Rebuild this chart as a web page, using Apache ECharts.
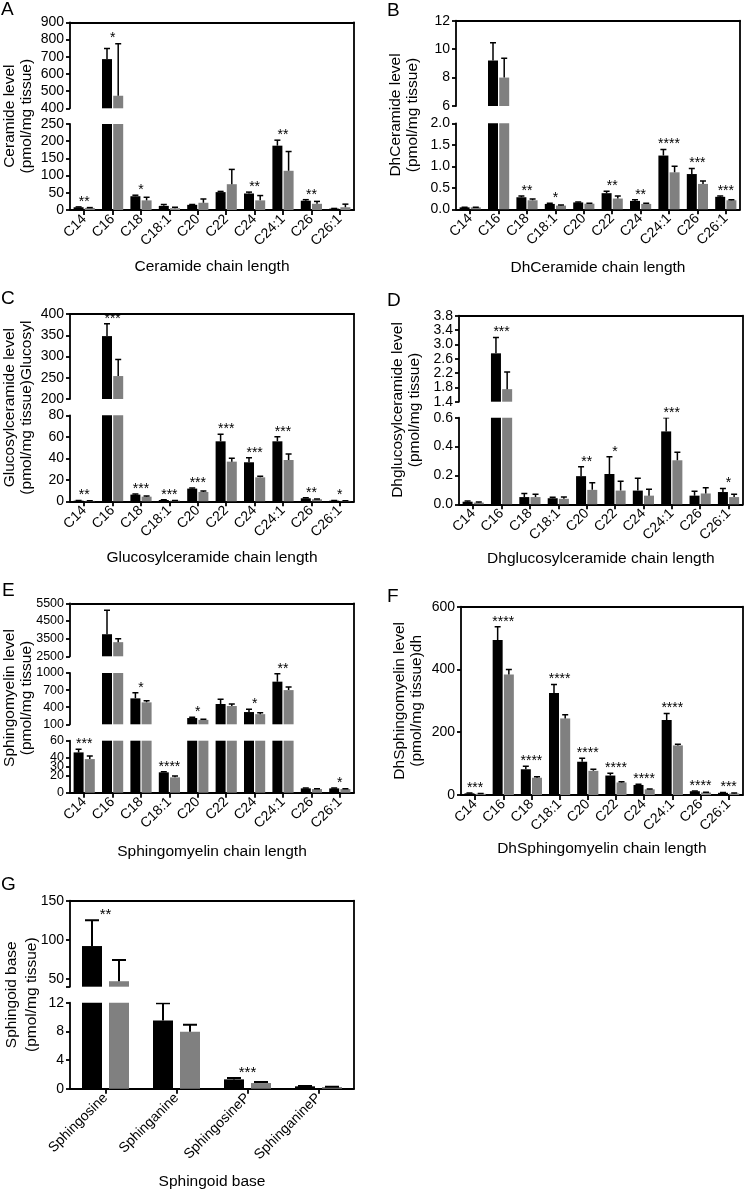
<!DOCTYPE html>
<html><head><meta charset="utf-8">
<script src="https://cdn.jsdelivr.net/npm/echarts@6.0.0/dist/echarts.min.js"></script>
<style>html,body{margin:0;padding:0;background:#fff;}#c{width:745px;height:1193px;}</style>
</head><body><div id="c"></div>
<script>
// ---------- categories ----------
const chainCats = ['C14','C16','C18','C18:1','C20','C22','C24','C24:1','C26','C26:1'];
const baseCats = ['Sphingosine','Sphinganine','SphingosineP','SphinganineP'];

// ---------- A: Ceramide ----------
const aBlack    = [8, 686, 40, 12, 15, 52, 48, 187, 27, 4];
const aBlackErr = [1, 62, 3, 4, 1, 2, 4, 16, 3, 0.5];
const aGrey     = [6, 473, 28, 5, 21, 75, 28, 114, 18, 8];
const aGreyErr  = [1, 303, 9, 3, 11, 43, 14, 56, 7, 9];
const aStars    = ['**','*','*','','','','**','**','**',''];

// ---------- B: DhCeramide ----------
const bBlack    = [0.045, 9.2, 0.28, 0.125, 0.16, 0.375, 0.195, 1.25, 0.82, 0.29];
const bBlackErr = [0.005, 1.25, 0.03, 0.015, 0.01, 0.045, 0.025, 0.14, 0.13, 0.02];
const bGrey     = [0.045, 8.0, 0.21, 0.086, 0.13, 0.25, 0.125, 0.86, 0.59, 0.21];
const bGreyErr  = [0.005, 1.35, 0.03, 0.014, 0.01, 0.06, 0.015, 0.14, 0.07, 0.01];
const bStars    = ['','','**','*','','**','**','****','***','***'];

// ---------- C: Glucosylceramide ----------
const cBlack    = [0.6, 348, 6.2, 1.2, 11.8, 55.8, 36.3, 55.8, 2.8, 0.6];
const cBlackErr = [0.2, 29, 0.6, 0.2, 0.6, 6.5, 4.3, 4.2, 0.4, 0.2];
const cGrey     = [0.4, 254, 4.3, 0.6, 8.7, 36.9, 22.3, 38.4, 1.9, 0.4];
const cGreyErr  = [0.2, 39, 0.7, 0.2, 0.9, 3.1, 1.0, 5.6, 0.3, 0.2];
const cStars    = ['**','***','***','***','***','***','***','***','**','*'];

// ---------- D: Dhglucosylceramide ----------
const dBlack    = [0.018, 2.75, 0.05, 0.042, 0.195, 0.21, 0.095, 0.505, 0.06, 0.085];
const dBlackErr = [0.004, 0.44, 0.025, 0.006, 0.065, 0.12, 0.085, 0.095, 0.03, 0.025];
const dGrey     = [0.012, 1.75, 0.05, 0.038, 0.10, 0.095, 0.06, 0.305, 0.075, 0.05];
const dGreyErr  = [0.004, 0.48, 0.02, 0.012, 0.05, 0.065, 0.045, 0.055, 0.04, 0.02];
const dStars    = ['','***','','','**','*','','***','','*'];

// ---------- E: Sphingomyelin ----------
const eBlack    = [46.5, 3750, 555, 23.5, 210, 456, 315, 848, 5, 5];
const eBlackErr = [3.5, 1350, 100, 0.7, 12, 85, 50, 140, 0.3, 0.3];
const eGrey     = [38.8, 3300, 485, 17.7, 178, 421, 278, 700, 4.2, 4.2];
const eGreyErr  = [3.5, 200, 30, 1.5, 10, 35, 25, 55, 0.3, 0.3];
const eStars    = ['***','','*','****','*','','*','**','','*'];

// ---------- F: DhSphingomyelin ----------
const fBlack    = [5.3, 494, 82, 325, 106, 62, 32, 239, 12, 7];
const fBlackErr = [1, 42, 10, 27, 11, 7, 2, 21, 1, 1];
const fGrey     = [4, 384, 55, 244, 77, 40, 18, 158, 8, 5];
const fGreyErr  = [1, 16, 3, 12, 5, 2, 1, 4, 1, 1];
const fStars    = ['***','****','****','****','****','****','****','****','****','***'];

// ---------- G: Sphingoid base ----------
const gBlack    = [92, 9.53, 1.3, 0.33];
const gBlackErr = [33, 2.4, 0.2, 0.03];
const gGrey     = [47, 7.95, 0.79, 0.23];
const gGreyErr  = [27, 0.98, 0.15, 0.03];
const gStars    = ['**','','***',''];
const gUpperTickValues  = [40, 50, 100, 150];
const gUpperLabelValues = [50, 100, 150];

// ---------- build ----------
const FONT = "'Liberation Sans', Arial, Helvetica, sans-serif";
const LW = 1.8;
const TITLE = 15.5;
const lineStyle = {color:'#000', width:LW};
const option = {animation:false, backgroundColor:'#fff', grid:[], xAxis:[], yAxis:[], series:[], graphic:[]};

function fmt1(v){ return (Math.round(v*10)/10).toFixed(1); }
function fmt0(v){ return String(Math.round(v)); }

function errRender(off, cap, lw){
  return function(params, api){
    const i = api.value(0), m = api.value(1), t = api.value(2);
    const p0 = api.coord([i, m]), p1 = api.coord([i, t]);
    const cx = p0[0] + off;
    return {type:'group', children:[
      {type:'line', shape:{x1:cx, y1:p0[1], x2:cx, y2:p1[1]}, style:{stroke:'#000', lineWidth:lw}},
      {type:'line', shape:{x1:cx-cap/2, y1:p1[1], x2:cx+cap/2, y2:p1[1]}, style:{stroke:'#000', lineWidth:lw}}
    ]};
  };
}

function addPanel(p){
  const segs = p.segs, n = segs.length;
  const width = p.right - p.left;
  const top0 = segs[0].top, bot = segs[n-1].bottom;
  // frame grid (top + right border, y title)
  const gf = option.grid.length;
  option.grid.push({left:p.left, top:top0, width:width, height:bot-top0});
  option.xAxis.push({gridIndex:gf, type:'value', min:0, max:1, position:'top',
    axisLine:{show:true, onZero:false, lineStyle}, axisTick:{show:false}, axisLabel:{show:false}, splitLine:{show:false}});
  option.yAxis.push({gridIndex:gf, type:'value', min:0, max:1, position:'right',
    axisLine:{show:true, onZero:false, lineStyle}, axisTick:{show:false}, axisLabel:{show:false}, splitLine:{show:false}});
  option.yAxis.push({gridIndex:gf, type:'value', min:0, max:1, position:'left',
    axisLine:{show:false, onZero:false}, axisTick:{show:false}, axisLabel:{show:false}, splitLine:{show:false},
    name:p.yName, nameLocation:'middle', nameRotate:90, nameGap:p.yNameGap,
    nameTextStyle:{fontFamily:FONT, fontSize:TITLE, color:'#000', lineHeight:p.yLineHeight||17}});

  const tops = p.black.map((v,i)=>Math.max(v+p.blackErr[i], p.grey[i]+p.greyErr[i]));
  function segOf(t){ for(let k=0;k<n;k++){ if(t>=segs[k].min) return k; } return n-1; }
  const off = p.barW*(1+p.gap)/2;

  segs.forEach((s, si)=>{
    const g = option.grid.length;
    option.grid.push({left:p.left, top:s.top, width:width, height:s.bottom-s.top});
    const last = si === n-1;
    const xi = option.xAxis.length;
    option.xAxis.push({gridIndex:g, type:'category', data:p.cats, boundaryGap:true, show:last,
      axisLine:{show:last, onZero:false, lineStyle}, axisTick:{show:last, alignWithLabel:true, length:5, lineStyle},
      axisLabel:{show:last, rotate:45, interval:0, fontSize:p.xLabelSize||14, color:'#000', fontFamily:FONT, margin:7,
        hideOverlap:false},
      splitLine:{show:false},
      name: last ? p.xName : '', nameLocation:'middle', nameGap:p.xNameGap,
      nameTextStyle:{fontFamily:FONT, fontSize:TITLE, color:'#000'}});
    const yi = option.yAxis.length;
    const yAx = {gridIndex:g, type:'value', min:s.min, max:s.max, position:'left',
      axisLine:{show:true, onZero:false, lineStyle}, axisTick:{show:true, length:4, lineStyle},
      axisLabel:{fontSize:p.yLabelSize||14, color:'#000', fontFamily:FONT, margin:6, formatter:s.fmt||fmt0,
        showMinLabel:true, showMaxLabel:true, hideOverlap:false},
      splitLine:{show:false}};
    if(s.interval) yAx.interval = s.interval;
    if(s.tickValues){ yAx.axisTick.customValues = s.tickValues; yAx.axisLabel.customValues = s.labelValues; }
    option.yAxis.push(yAx);

    [[p.black, '#000000'], [p.grey, '#808080']].forEach(([vals, col])=>{
      option.series.push({type:'bar', xAxisIndex:xi, yAxisIndex:yi, data:vals, barWidth:p.barW,
        barGap:(p.gap*100)+'%', itemStyle:{color:col}, clip:true, silent:true, z:2});
    });
    [[p.black, p.blackErr, -off], [p.grey, p.greyErr, off]].forEach(([vals, errs, o])=>{
      option.series.push({type:'custom', xAxisIndex:xi, yAxisIndex:yi, clip:true, silent:true, z:3,
        data: vals.map((v,i)=>[i, v, v+errs[i]]), encode:{x:0, y:[1,2]},
        renderItem: errRender(o, p.cap, p.elw)});
    });
    // significance stars
    const idx = p.stars.map((st,i)=>i).filter(i=>p.stars[i] && segOf(tops[i])===si);
    if(idx.length){
      const labels = idx.map(i=>p.stars[i]);
      option.series.push({type:'custom', xAxisIndex:xi, yAxisIndex:yi, clip:false, silent:true, z:4,
        data: idx.map(i=>[i, Math.min(tops[i], s.max)]), encode:{x:0, y:1},
        renderItem: function(params, api){
          const c = api.coord([api.value(0), api.value(1)]);
          return {type:'text', style:{text:labels[params.dataIndex], x:c[0], y:c[1]-p.starOff,
            align:'center', verticalAlign:'bottom', fontSize:p.starSize||14, fontFamily:FONT, fill:'#000'}};
        }});
    }
  });
  option.graphic.push({type:'text', left:p.letter[1], top:p.letter[2],
    style:{text:p.letter[0], fontSize:19, fontFamily:FONT, fill:'#000'}});
}

const common = {cats:chainCats, barW:10, gap:0.12, cap:6, elw:1.5, starOff:-2};

addPanel(Object.assign({}, common, {
  left:70, right:354, black:aBlack, blackErr:aBlackErr, grey:aGrey, greyErr:aGreyErr, stars:aStars,
  yName:'Ceramide level\n(pmol/mg tissue)', yNameGap:35, xName:'Ceramide chain length', xNameGap:49,
  letter:['A',1,0],
  segs:[{top:22.3, bottom:108.3, min:400, max:900, interval:100},
        {top:124, bottom:210, min:0, max:250, interval:50}]}));

addPanel(Object.assign({}, common, {
  left:456, right:740, black:bBlack, blackErr:bBlackErr, grey:bGrey, greyErr:bGreyErr, stars:bStars,
  yName:'DhCeramide level\n(pmol/mg tissue)', yNameGap:35, xName:'DhCeramide chain length', xNameGap:50,
  letter:['B',387,1],
  segs:[{top:20.7, bottom:106, min:6, max:12, interval:2},
        {top:123.3, bottom:209.3, min:0, max:2, interval:0.5, fmt:fmt1}]}));

addPanel(Object.assign({}, common, {
  left:70, right:354, black:cBlack, blackErr:cBlackErr, grey:cGrey, greyErr:cGreyErr, stars:cStars,
  yName:'Glucosylceramide level\n(pmol/mg tissue)Glucosyl', yNameGap:35.5, xName:'Glucosylceramide chain length', xNameGap:48,
  letter:['C',1,289],
  segs:[{top:314, bottom:399, min:200, max:400, interval:50},
        {top:415.3, bottom:501.3, min:0, max:80, interval:20}]}));

addPanel(Object.assign({}, common, {
  left:459, right:742.7, black:dBlack, blackErr:dBlackErr, grey:dGrey, greyErr:dGreyErr, stars:dStars,
  yName:'Dhglucosylceramide level\n(pmol/mg tissue)', yNameGap:36, xName:'Dhglucosylceramide chain length', xNameGap:46.5,
  letter:['D',387,291],
  segs:[{top:315.7, bottom:401.7, min:1.4, max:3.8, interval:0.4, fmt:fmt1},
        {top:417.7, bottom:504.3, min:0, max:0.6, interval:0.2, fmt:fmt1}]}));

addPanel(Object.assign({}, common, {
  left:70, right:354, black:eBlack, blackErr:eBlackErr, grey:eGrey, greyErr:eGreyErr, stars:eStars,
  yName:'Sphingomyelin level\n(pmol/mg tissue)', yNameGap:36.5, xName:'Sphingomyelin chain length', xNameGap:51.5,
  yLabelSize:12.5, letter:['E',2,581],
  segs:[{top:603.3, bottom:656.3, min:2500, max:5500, interval:1000},
        {top:673, bottom:724.3, min:100, max:1000, interval:300},
        {top:740.7, bottom:792.7, min:0, max:60, interval:10}]}));

addPanel(Object.assign({}, common, {
  left:461, right:742.7, black:fBlack, blackErr:fBlackErr, grey:fGrey, greyErr:fGreyErr, stars:fStars,
  yName:'DhSphingomyelin level\n(pmol/mg tissue)dh', yNameGap:35.5, xName:'DhSphingomyelin chain length', xNameGap:46,
  letter:['F',387,587.5],
  segs:[{top:606.7, bottom:795, min:0, max:600, interval:200}]}));

addPanel(Object.assign({}, common, {
  cats:baseCats, barW:20, gap:0.35, cap:14, elw:2, starSize:15,
  left:70, right:354, black:gBlack, blackErr:gBlackErr, grey:gGrey, greyErr:gGreyErr, stars:gStars,
  yName:'Sphingoid base\n(pmol/mg tissue)', yNameGap:28, yLineHeight:20, xName:'Sphingoid base', xNameGap:85.5,
  letter:['G',1,875.5],
  segs:[{top:900.7, bottom:986.7, min:40, max:150, tickValues:gUpperTickValues, labelValues:gUpperLabelValues},
        {top:1002.7, bottom:1088.7, min:0, max:12, interval:4}]}));

const chart = echarts.init(document.getElementById('c'), null, {renderer:'canvas', width:745, height:1193});
chart.setOption(option);
</script>
</body></html>
